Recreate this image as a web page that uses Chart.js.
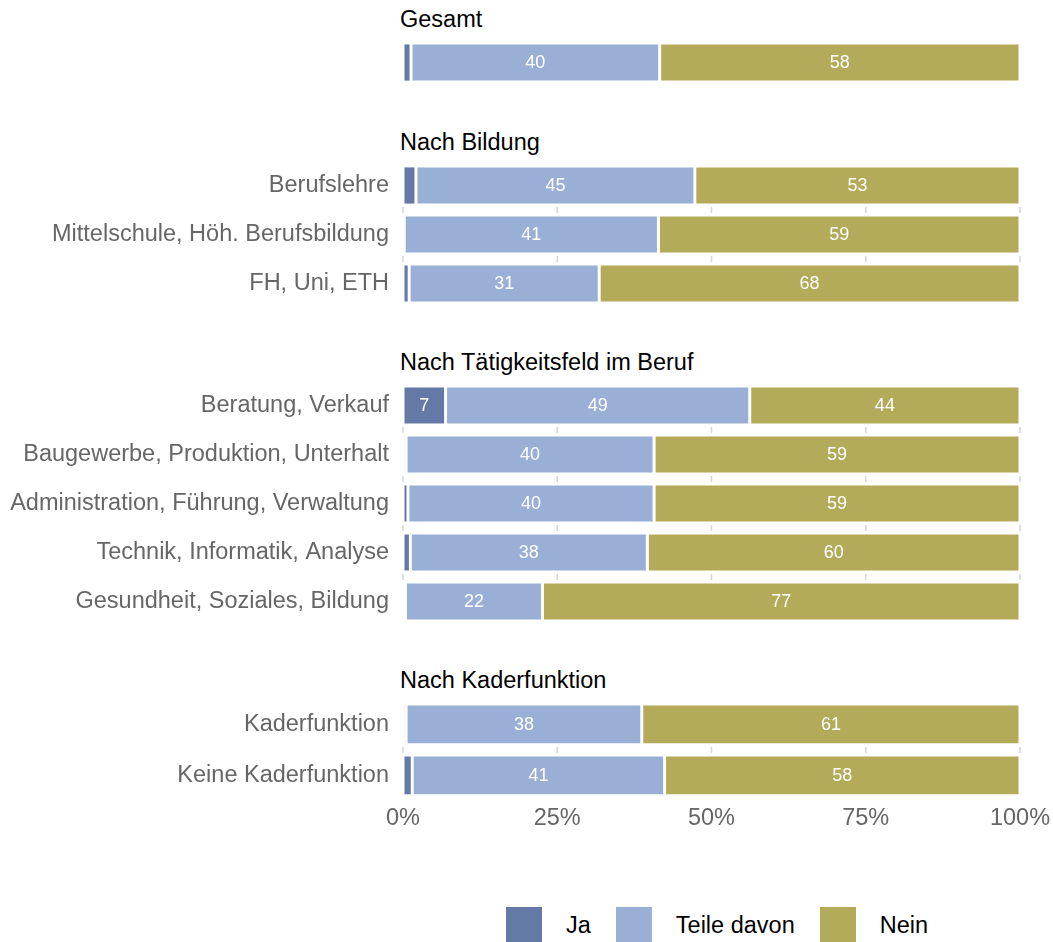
<!DOCTYPE html>
<html>
<head>
<meta charset="utf-8">
<script src="https://cdn.jsdelivr.net/npm/chart.js@4.4.0/dist/chart.umd.min.js"></script>
<style>
body { margin: 0; background: #fff; font-family: "Liberation Sans", Arial, sans-serif; }
#wrap { position: relative; width: 1053px; height: 942px; overflow: hidden; }
canvas { position: absolute; left: 0; }
.title { position: absolute; left: 400px; font-size: 23.5px; line-height: 28px; color: #000; white-space: nowrap; }
#legend { position: absolute; left: 506px; top: 907px; display: flex; align-items: center; font-size: 23.5px; color: #000; }
#legend .box { width: 36px; height: 36px; margin-right: 24px; }
#legend .item { display: flex; align-items: center; margin-right: 25px; }
</style>
</head>
<body>
<div id="wrap"></div>
<script>
const seriesNames = ['Ja', 'Teile davon', 'Nein'];
const seriesColors = ['#6479a6', '#9aafd6', '#b3aa5a'];
const xTicks = [0, 25, 50, 75, 100];

// Gesamt
const gesamtLabels = [''];
const gesamtJa = [1.3];
const gesamtTeile = [40.3];
const gesamtNein = [58.4];

// Nach Bildung
const bildungLabels = ['Berufslehre', 'Mittelschule, Höh. Berufsbildung', 'FH, Uni, ETH'];
const bildungJa = [2.1, 0.2, 1.0];
const bildungTeile = [45.2, 41.2, 30.8];
const bildungNein = [52.7, 58.6, 68.2];

// Nach Tätigkeitsfeld im Beruf
const taetigLabels = ['Beratung, Verkauf', 'Baugewerbe, Produktion, Unterhalt', 'Administration, Führung, Verwaltung', 'Technik, Informatik, Analyse', 'Gesundheit, Soziales, Bildung'];
const taetigJa = [6.9, 0.5, 0.8, 1.2, 0.4];
const taetigTeile = [49.3, 40.2, 39.9, 38.4, 22.2];
const taetigNein = [43.8, 59.3, 59.3, 60.4, 77.4];

// Nach Kaderfunktion
const kaderLabels = ['Kaderfunktion', 'Keine Kaderfunktion'];
const kaderJa = [0.5, 1.5];
const kaderTeile = [38.2, 40.9];
const kaderNein = [61.3, 57.6];

const panels = [
    { title: 'Gesamt', labels: gesamtLabels, series: [gesamtJa, gesamtTeile, gesamtNein], top: 38 },
    { title: 'Nach Bildung', labels: bildungLabels, series: [bildungJa, bildungTeile, bildungNein], top: 161 },
    { title: 'Nach Tätigkeitsfeld im Beruf', labels: taetigLabels, series: [taetigJa, taetigTeile, taetigNein], top: 381 },
    { title: 'Nach Kaderfunktion', labels: kaderLabels, series: [kaderJa, kaderTeile, kaderNein], top: 699 }
];

const ROW = 49;
Chart.defaults.font.family = '"Liberation Sans", Arial, sans-serif';

// short grid marks only in the gaps between rows
const gapMarks = {
    id: 'gapMarks',
    beforeDatasetsDraw(chart) {
        const ctx = chart.ctx;
        const xs = chart.scales.x, ys = chart.scales.y;
        const n = chart.data.labels.length;
        ctx.save();
        ctx.strokeStyle = '#d6d6d6';
        ctx.lineWidth = 1.5;
        for (let j = 0; j < n - 1; j++) {
            const mid = (ys.getPixelForValue(j) + ys.getPixelForValue(j + 1)) / 2;
            xTicks.forEach(t => {
                const x = xs.getPixelForValue(t);
                ctx.beginPath();
                ctx.moveTo(x, mid - 3);
                ctx.lineTo(x, mid + 3);
                ctx.stroke();
            });
        }
        ctx.restore();
    }
};

const segmentLabels = {
    id: 'segmentLabels',
    afterDatasetsDraw(chart) {
        const ctx = chart.ctx;
        ctx.save();
        ctx.font = '18px "Liberation Sans", Arial, sans-serif';
        ctx.fillStyle = '#fff';
        ctx.textAlign = 'center';
        ctx.textBaseline = 'middle';
        chart.data.datasets.forEach((ds, i) => {
            chart.getDatasetMeta(i).data.forEach((bar, j) => {
                const v = ds.data[j];
                if (v < 5) return;
                const p = bar.getProps(['x', 'y', 'base'], true);
                ctx.fillText(Math.round(v), (p.x + p.base) / 2, p.y + 1);
            });
        });
        ctx.restore();
    }
};

const wrap = document.getElementById('wrap');

panels.forEach((panel, idx) => {
    const isLast = idx === panels.length - 1;

    const title = document.createElement('div');
    title.className = 'title';
    title.textContent = panel.title;
    title.style.top = (panel.top - 33) + 'px';
    wrap.appendChild(title);

    const canvas = document.createElement('canvas');
    const h = panel.labels.length * ROW + (isLast ? 40 : 0);
    canvas.width = 1053;
    canvas.height = h;
    canvas.style.top = panel.top + 'px';
    wrap.appendChild(canvas);

    new Chart(canvas.getContext('2d'), {
        type: 'bar',
        data: {
            labels: panel.labels,
            datasets: seriesNames.map((name, i) => ({
                label: name,
                data: panel.series[i],
                backgroundColor: seriesColors[i],
                borderColor: '#ffffff',
                borderWidth: 1.5,
                borderSkipped: false,
                barPercentage: 0.8,
                categoryPercentage: 1
            }))
        },
        options: {
            indexAxis: 'y',
            responsive: false,
            animation: false,
            layout: { padding: { left: 0, right: 33, top: 0, bottom: 0 } },
            plugins: {
                legend: { display: false },
                tooltip: { enabled: false }
            },
            scales: {
                x: {
                    stacked: true,
                    min: 0,
                    max: 100,
                    afterBuildTicks: s => { s.ticks = xTicks.map(v => ({ value: v })); },
                    afterFit: s => { s.paddingLeft = 0; s.paddingRight = 0; },
                    border: { display: false },
                    grid: { display: false, drawTicks: false },
                    ticks: {
                        display: isLast,
                        callback: v => v + '%',
                        color: '#666',
                        font: { size: 23.5 },
                        padding: 4,
                        maxRotation: 0
                    }
                },
                y: {
                    stacked: true,
                    afterFit: s => { s.width = 403; s.paddingTop = 0; s.paddingBottom = 0; },
                    border: { display: false },
                    grid: { display: false, drawTicks: false },
                    ticks: { color: '#666', font: { size: 23.5 }, padding: 14 }
                }
            }
        },
        plugins: [gapMarks, segmentLabels]
    });
});

const legend = document.createElement('div');
legend.id = 'legend';
legend.innerHTML = seriesNames.map((name, i) => `
    <div class="item"><div class="box" style="background:${seriesColors[i]}"></div><span>${name}</span></div>
`).join('');
wrap.appendChild(legend);
</script>
</body>
</html>
